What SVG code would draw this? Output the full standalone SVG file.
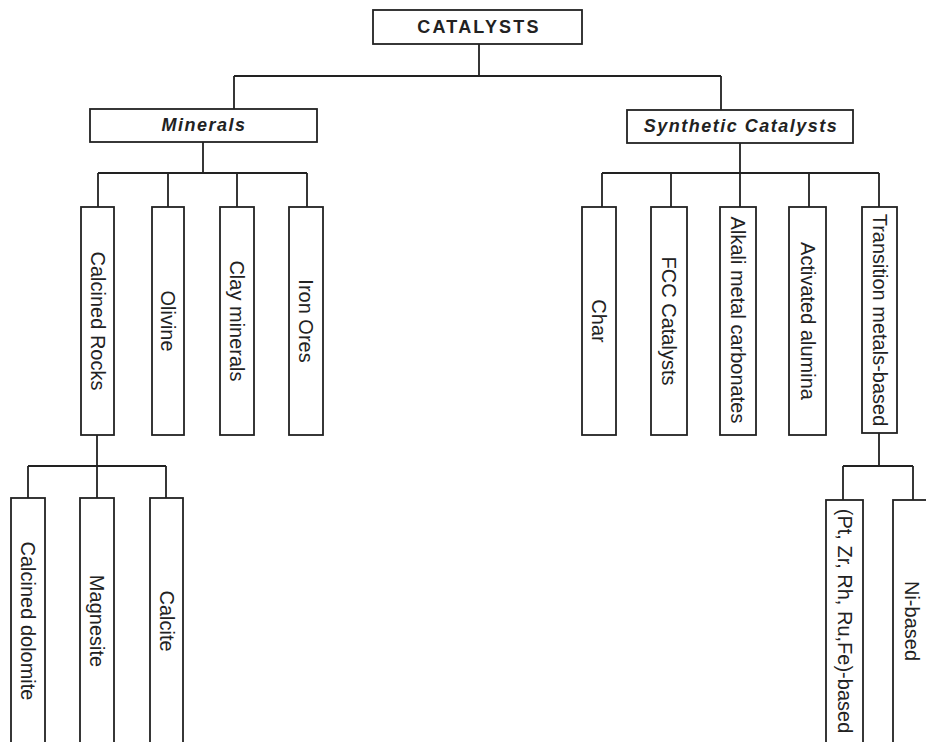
<svg xmlns="http://www.w3.org/2000/svg" width="926" height="742" viewBox="0 0 926 742">
<style>
rect{fill:#fff;stroke:#222;stroke-width:1.8}
.c path{fill:none;stroke:#222;stroke-width:1.8}
text{font-family:"Liberation Sans",Arial,sans-serif;fill:#222}
.v{font-size:20px;text-anchor:middle}
.h{font-size:18px;font-weight:bold;font-style:italic;text-anchor:middle;letter-spacing:1.5px}
.t{font-size:18px;font-weight:bold;text-anchor:middle;letter-spacing:2.2px}
</style>
<rect width="926" height="742" style="fill:#fff;stroke:none"/>
<g class="c" id="connectors">
<path d="M479 44V76M234 76H721M234 76V109M721 76V110"/>
<path d="M203 142V173M98 173H307M98 173V207M168 173V207M237 173V207M307 173V207"/>
<path d="M740 143V173M602 173H879M602 173V207M671 173V207M740 173V207M809 173V207M879 173V207"/>
<path d="M97 435V466M28 466H166M28 466V498M97 466V498M166 466V498"/>
<path d="M879 433V466M843 466H913M843 466V500M913 466V500"/>
</g>
<g id="catalysts"><rect x="373" y="10" width="209" height="34"/><text class="t" x="479" y="33">CATALYSTS</text></g>
<g id="minerals"><rect x="90" y="109" width="227" height="33"/><text class="h" x="204" y="131">Minerals</text></g>
<g id="synthetic"><rect x="627" y="110" width="226" height="33"/><text class="h" x="741" y="132">Synthetic Catalysts</text></g>
<g id="calcined-rocks"><rect x="81" y="207" width="33" height="228"/><text class="v" transform="translate(97.5 321) rotate(90)" y="7">Calcined Rocks</text></g>
<g id="olivine"><rect x="152" y="207" width="32" height="228"/><text class="v" transform="translate(168 321) rotate(90)" y="7">Olivine</text></g>
<g id="clay"><rect x="220" y="207" width="34" height="228"/><text class="v" transform="translate(237 321) rotate(90)" y="7">Clay minerals</text></g>
<g id="iron"><rect x="289" y="207" width="34" height="228"/><text class="v" transform="translate(306 321) rotate(90)" y="7">Iron Ores</text></g>
<g id="char"><rect x="582" y="207" width="34" height="228"/><text class="v" transform="translate(599 321) rotate(90)" y="7">Char</text></g>
<g id="fcc"><rect x="651" y="207" width="36" height="228"/><text class="v" transform="translate(669 321) rotate(90)" y="7">FCC Catalysts</text></g>
<g id="alkali"><rect x="720" y="207" width="36" height="228"/><text class="v" transform="translate(738 320) rotate(90)" y="7">Alkali metal carbonates</text></g>
<g id="alumina"><rect x="789" y="207" width="37" height="228"/><text class="v" transform="translate(807.5 321) rotate(90)" y="7">Activated alumina</text></g>
<g id="transition"><rect x="862" y="207" width="35" height="226"/><text class="v" transform="translate(879.5 320) rotate(90)" y="7">Transition metals-based</text></g>
<g id="dolomite"><rect x="11" y="498" width="34" height="248"/><text class="v" transform="translate(28 621) rotate(90)" y="7">Calcined dolomite</text></g>
<g id="magnesite"><rect x="80" y="498" width="34" height="248"/><text class="v" transform="translate(97 621) rotate(90)" y="7">Magnesite</text></g>
<g id="calcite"><rect x="150" y="498" width="33" height="248"/><text class="v" transform="translate(166.5 621) rotate(90)" y="7">Calcite</text></g>
<g id="pt-based"><rect x="826" y="500" width="37" height="246"/><text class="v" transform="translate(844.5 621) rotate(90)" y="7">(Pt, Zr, Rh, Ru,Fe)-based</text></g>
<g id="ni-based"><rect x="893" y="500" width="37" height="246"/><text class="v" transform="translate(911.5 621) rotate(90)" y="7">Ni-based</text></g>
</svg>
